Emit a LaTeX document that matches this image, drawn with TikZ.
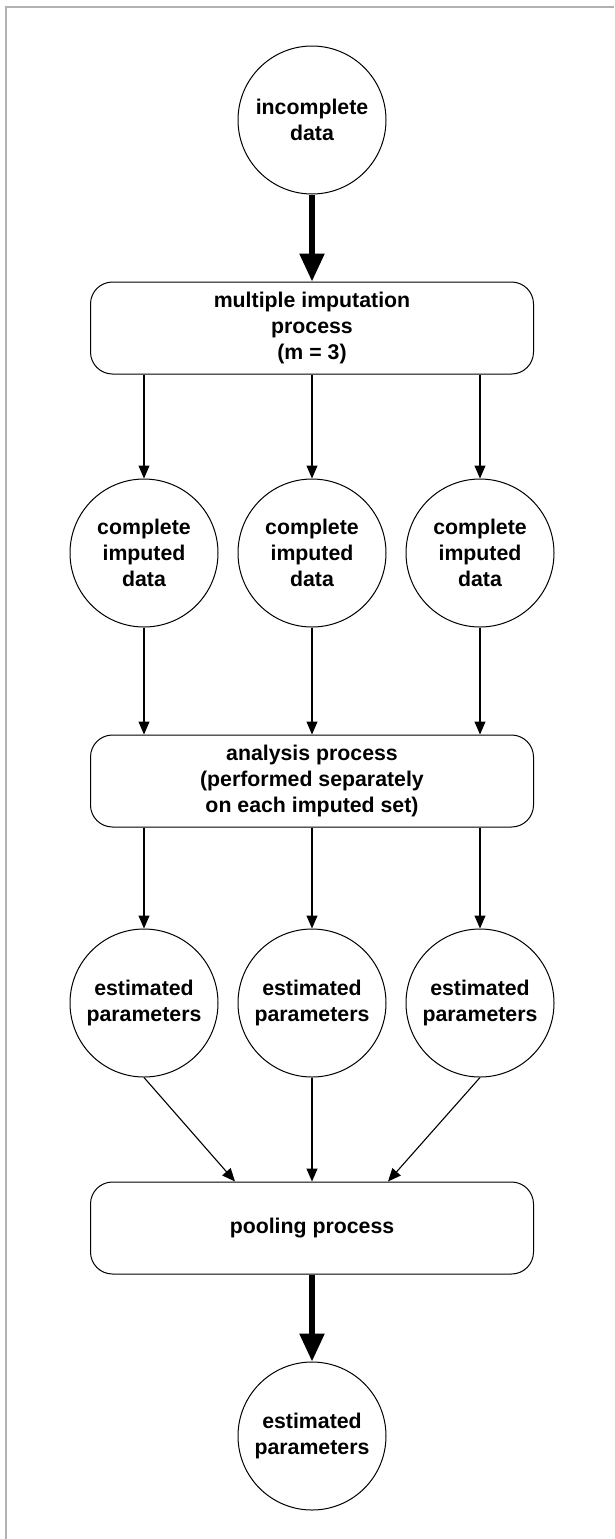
\documentclass[tikz,border=0pt]{standalone}
\usepackage{fontspec}
\setsansfont{Liberation Sans}
\usetikzlibrary{arrows.meta,positioning}

\begin{document}
\begin{tikzpicture}[
  x=1pt, y=1pt,
  font=\sffamily\bfseries\fontsize{21.3}{26}\selectfont,
  blob/.style={draw, circle, line width=1pt, minimum size=148pt, inner sep=0pt, align=center},
  stage/.style={draw, rounded corners=22pt, line width=1pt, minimum width=443pt, minimum height=92pt, inner sep=0pt, align=center},
  arr/.style={-{Triangle[width=11pt,length=13pt]}, line width=1.1pt},
  bigarr/.style={-{Triangle[width=24pt,length=28pt]}, line width=5.5pt}
]
\useasboundingbox (0,0) rectangle (614,-1539);
\draw[gray!60, line width=1.5pt] (6,-1539) -- (6,-7) -- (614,-7);

\node[blob] (inc) at (312,-120) {incomplete\\data};
\node[stage, below=87pt of inc] (imp) {multiple imputation\\process\\(m = 3)};
\node[blob, below=104pt of imp] (cmp2) {complete\\imputed\\data};
\node[blob, left=19pt of cmp2] (cmp1) {complete\\imputed\\data};
\node[blob, right=19pt of cmp2] (cmp3) {complete\\imputed\\data};
\node[stage, below=107pt of cmp2] (ana) {analysis process\\(performed separately\\on each imputed set)};
\node[blob, below=101pt of ana] (est2) {estimated\\parameters};
\node[blob, left=19pt of est2] (est1) {estimated\\parameters};
\node[blob, right=19pt of est2] (est3) {estimated\\parameters};
\node[stage, below=104pt of est2] (pool) {pooling process};
\node[blob, below=87pt of pool] (fin) {estimated\\parameters};

\draw[bigarr] (inc) -- (imp);
\foreach \c in {cmp1,cmp2,cmp3} {
  \draw[arr] (\c |- imp.south) -- (\c);
  \draw[arr] (\c) -- (\c |- ana.north);
}
\foreach \e in {est1,est2,est3}
  \draw[arr] (\e |- ana.south) -- (\e);
\draw[arr] (est1.south) -- ([xshift=-77pt]pool.north);
\draw[arr] (est2) -- (pool);
\draw[arr] (est3.south) -- ([xshift=76pt]pool.north);
\draw[bigarr] (pool) -- (fin);
\end{tikzpicture}
\end{document}
